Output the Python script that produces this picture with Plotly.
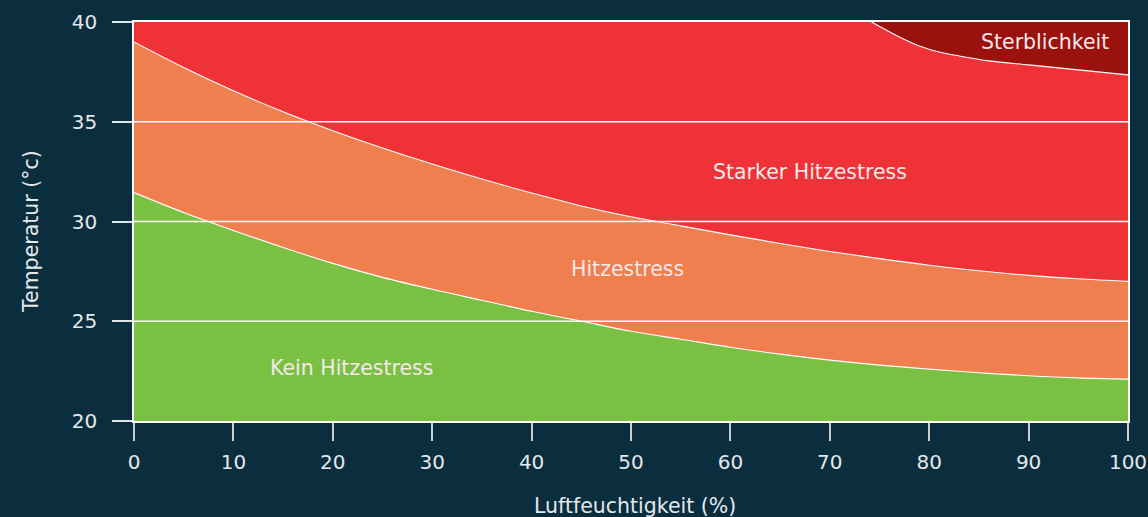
import plotly.graph_objects as go

# Data
humidity = [0, 5, 10, 15, 20, 25, 30, 35, 40, 45, 50, 55, 60, 65, 70, 75, 80, 85, 90, 95, 100]
t_kein = [31.45, 30.45, 29.55, 28.7, 27.9, 27.2, 26.6, 26.05, 25.5, 25.0, 24.5, 24.1, 23.7, 23.35,
          23.05, 22.8, 22.6, 22.42, 22.27, 22.16, 22.1]
t_hitze = [39.0, 37.72, 36.55, 35.5, 34.55, 33.68, 32.88, 32.13, 31.43, 30.78, 30.24, 29.78, 29.33,
           28.9, 28.5, 28.14, 27.81, 27.53, 27.3, 27.13, 27.0]
humidity_top = [74.2, 77, 79, 81, 83, 86, 90, 93, 96, 100]
t_sterb = [40.0, 39.25, 38.8, 38.5, 38.3, 38.05, 37.85, 37.7, 37.55, 37.35]

labels = ["Kein Hitzestress", "Hitzestress", "Starker Hitzestress", "Sterblichkeit"]
label_x = [21.9, 49.6, 68.0, 98.3]
label_y = [22.66, 27.64, 32.48, 39.0]

x_ticks = list(range(0, 101, 10))
y_ticks = [20, 25, 30, 35, 40]
x_title = "Luftfeuchtigkeit (%)"
y_title = "Temperatur (°c)"

BG = "#0b2e3e"
GREEN = "#7ac143"
ORANGE = "#f07f50"
RED = "#ee3237"
DARKRED = "#9b110e"
TXT = "#e4e8ea"
FONT = "DejaVu Sans"

fig = go.Figure()

# green area
fig.add_trace(go.Scatter(x=humidity, y=t_kein, mode="lines", fill="tozeroy",
                         fillcolor=GREEN, line=dict(color="white", width=1.1, shape="spline"),
                         hoverinfo="skip", showlegend=False))
# orange area
fig.add_trace(go.Scatter(x=humidity, y=t_hitze, mode="lines", fill="tonexty",
                         fillcolor=ORANGE, line=dict(color="white", width=1.1, shape="spline"),
                         hoverinfo="skip", showlegend=False))
# dark red area (top right)
fig.add_trace(go.Scatter(x=humidity_top, y=[y_ticks[-1]] * len(humidity_top), mode="lines",
                         line=dict(width=0, color=DARKRED),
                         hoverinfo="skip", showlegend=False))
fig.add_trace(go.Scatter(x=humidity_top, y=t_sterb, mode="lines", fill="tonexty",
                         fillcolor=DARKRED, line=dict(color="white", width=1.1, shape="spline"),
                         hoverinfo="skip", showlegend=False))

# gridlines above fills
for yv in y_ticks[1:-1]:
    fig.add_shape(type="line", xref="x", yref="y", x0=0, x1=100, y0=yv, y1=yv,
                  line=dict(color="white", width=1.3), layer="above")

for txt, lx, ly in zip(labels, label_x, label_y):
    fig.add_annotation(x=lx, y=ly, text=txt, showarrow=False,
                       xanchor="right" if txt == "Sterblichkeit" else "center",
                       font=dict(family=FONT, size=20.5, color="#f5e8e8"))

# axis titles
fig.add_annotation(xref="paper", yref="paper", x=0.5, y=0, xshift=4, yshift=-85,
                   text=x_title, showarrow=False, xanchor="center", yanchor="middle",
                   font=dict(family=FONT, size=20.5, color=TXT))
fig.add_annotation(xref="paper", yref="paper", x=0, y=0.5, xshift=-103.5, yshift=-10,
                   text=y_title, showarrow=False, textangle=-90,
                   xanchor="center", yanchor="middle",
                   font=dict(family=FONT, size=20.5, color=TXT))

fig.update_layout(
    width=1148, height=517,
    paper_bgcolor=BG, plot_bgcolor=RED,
    margin=dict(l=134, r=20, t=22, b=96, autoexpand=False),
    font=dict(family=FONT, color=TXT, size=20),
    showlegend=False,
)
fig.update_xaxes(range=[0, 100], tickvals=x_ticks, showgrid=False, zeroline=False,
                 showline=True, mirror=True, linecolor="white", linewidth=1.5,
                 ticks="outside", ticklen=18, tickcolor="#c8cdd0", tickwidth=1.5,
                 ticklabelstandoff=4, automargin=False,
                 tickfont=dict(family=FONT, size=20, color=TXT),
                 layer="above traces")
fig.update_yaxes(range=[20, 40], tickvals=y_ticks, showgrid=False, zeroline=False,
                 showline=True, mirror=True, linecolor="white", linewidth=1.5,
                 ticks="outside", ticklen=20, tickcolor="#e0e4e6", tickwidth=1.5,
                 ticklabelstandoff=11, automargin=False,
                 tickfont=dict(family=FONT, size=20, color=TXT),
                 layer="above traces")

fig.write_html("out.html", config={"displayModeBar": False},
               post_script="document.body.style.margin='0';document.body.style.background='#0b2e3e';")
